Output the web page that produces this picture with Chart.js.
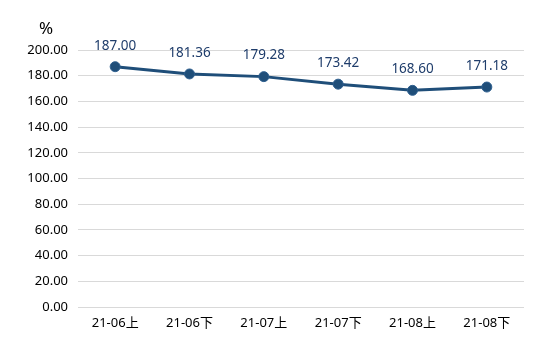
<!DOCTYPE html>
<html>
<head>
<meta charset="utf-8">
<script src="https://cdn.jsdelivr.net/npm/chart.js"></script>
<style>
  html, body { margin: 0; padding: 0; background: #fff; }
  #wrap { width: 560px; height: 359px; }
</style>
</head>
<body>
<div id="wrap"><canvas id="chart" width="560" height="359"></canvas></div>
<script>
const labels = ["21-06上", "21-06下", "21-07上", "21-07下", "21-08上", "21-08下"];
const values = [187.00, 181.36, 179.28, 173.42, 168.60, 171.18];
const yTicks = [0, 20, 40, 60, 80, 100, 120, 140, 160, 180, 200];

const FONT = "'Noto Sans', 'Noto Sans CJK SC', sans-serif";

const pointLabels = {
  id: "pointLabels",
  afterDatasetsDraw(chart) {
    const ctx = chart.ctx;
    const meta = chart.getDatasetMeta(0);
    ctx.save();
    ctx.font = "13.5px " + FONT;
    ctx.fillStyle = "#1F3D6B";
    ctx.textAlign = "center";
    ctx.textBaseline = "middle";
    meta.data.forEach((pt, i) => {
      ctx.fillText(values[i].toFixed(2), pt.x, pt.y - 21);
    });
    ctx.restore();
  }
};

const unitLabel = {
  id: "unitLabel",
  afterDraw(chart) {
    const ctx = chart.ctx;
    ctx.save();
    ctx.font = "17px " + FONT;
    ctx.fillStyle = "#000";
    ctx.textAlign = "center";
    ctx.textBaseline = "middle";
    ctx.fillText("%", 46, 29);
    ctx.restore();
  }
};

new Chart(document.getElementById("chart"), {
  type: "line",
  data: {
    labels,
    datasets: [{
      data: values,
      borderColor: "#1F4E79",
      borderWidth: 3,
      pointRadius: 5,
      pointBackgroundColor: "#1F4E79",
      pointBorderColor: "#2E5F8F",
      pointBorderWidth: 1,
      tension: 0
    }]
  },
  options: {
    responsive: false,
    animation: false,
    layout: { padding: { top: 50, right: 36, left: 0, bottom: 0 } },
    plugins: {
      legend: { display: false },
      tooltip: { enabled: false }
    },
    scales: {
      x: {
        offset: true,
        grid: { display: false },
        border: { display: false },
        ticks: { color: "#000", font: { size: 13, family: FONT }, padding: 0, maxRotation: 0 },
        afterFit: (scale) => { scale.height = 52; }
      },
      y: {
        min: 0,
        max: 200,
        afterBuildTicks: (scale) => { scale.ticks = yTicks.map((v) => ({ value: v })); },
        grid: { color: "#D9D9D9", drawTicks: false },
        border: { display: false },
        ticks: {
          color: "#000",
          font: { size: 13, family: FONT },
          padding: 10,
          callback: (v) => Number(v).toFixed(2)
        },
        afterFit: (scale) => { scale.width = 78; }
      }
    }
  },
  plugins: [pointLabels, unitLabel]
});
</script>
</body>
</html>
